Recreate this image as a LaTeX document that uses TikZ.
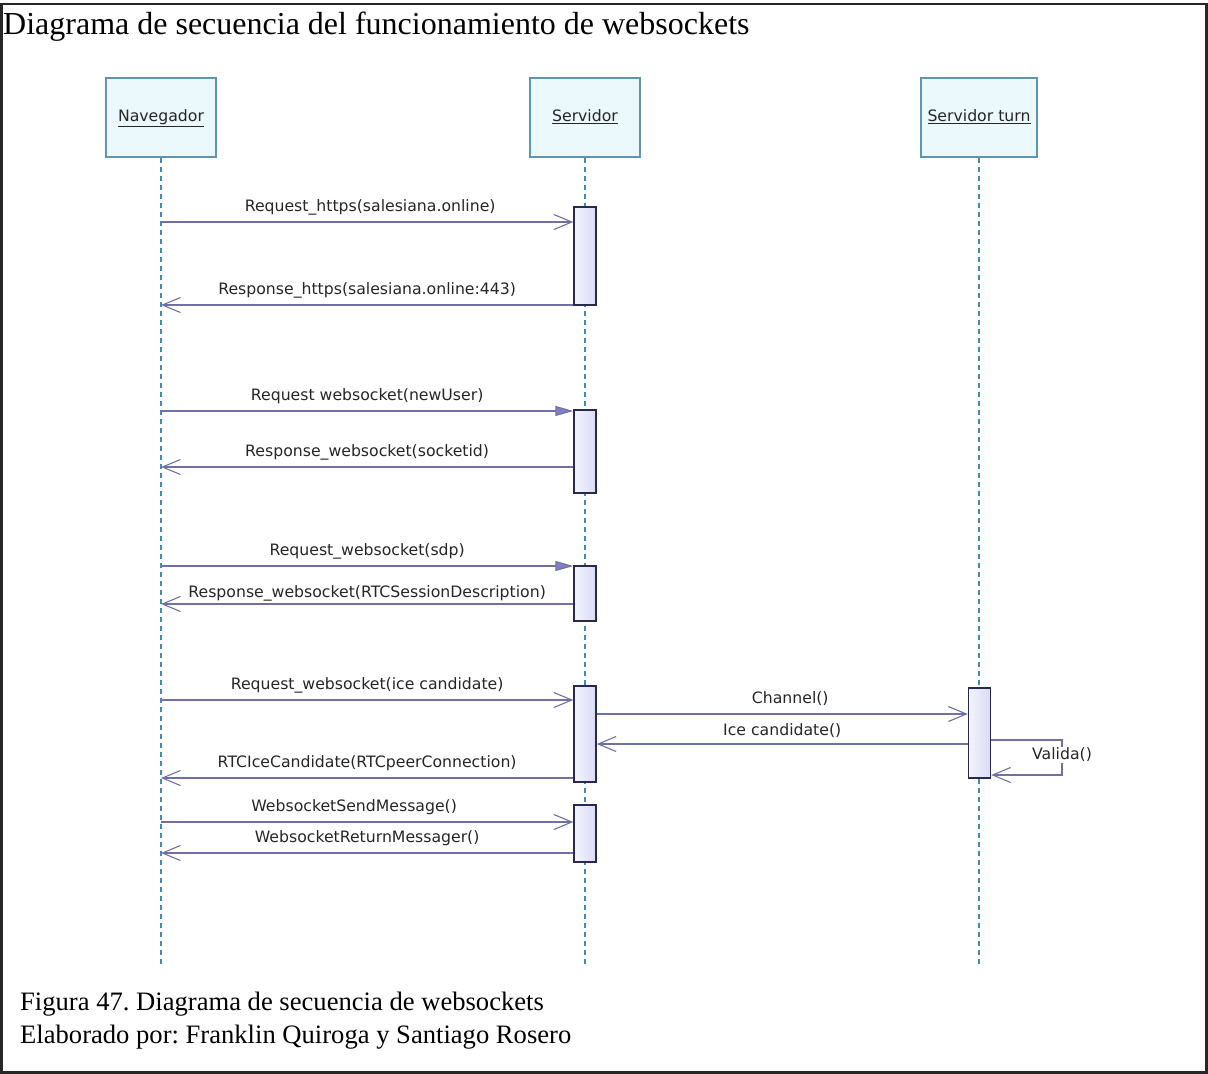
\documentclass[tikz,border=0pt]{standalone}
\usepackage{fontspec}
\setmainfont{Liberation Serif}
\newfontfamily\umlfont{DejaVu Sans}
\usetikzlibrary{arrows.meta}
\frenchspacing

\definecolor{msgcol}{RGB}{112,112,162}
\definecolor{callfill}{RGB}{128,128,192}
\definecolor{boxline}{RGB}{96,148,176}
\definecolor{boxfill}{RGB}{236,249,252}
\definecolor{lifecol}{RGB}{70,138,180}
\definecolor{bardraw}{RGB}{40,40,80}
\definecolor{barlight}{RGB}{244,244,255}
\definecolor{bardark}{RGB}{218,218,246}
\definecolor{lblcol}{RGB}{38,38,38}

\begin{document}
\begin{tikzpicture}[x=1pt,y=-1pt,
  umltext/.style={font=\umlfont\fontsize{15.7}{18}\selectfont},
  lifebox/.style={umltext, draw=boxline, fill=boxfill, line width=1.2pt,
    minimum width=110pt, minimum height=79pt, inner sep=0pt, text=lblcol,
    text height=11.5pt, text depth=3.5pt},
  lifeline/.style={draw=lifecol, line width=1.1pt, dash pattern=on 5pt off 4pt},
  actbar/.style={draw=bardraw, line width=1.4pt, left color=barlight,
    right color=bardark, minimum width=22pt, inner sep=0pt},
  msg/.style={draw=msgcol, line width=1.1pt,
    -{Straight Barb[length=18pt,width=15pt,line width=1.1pt]}},
  call/.style={draw=msgcol, line width=1.1pt,
    -{Triangle[length=18pt,width=10pt,fill=callfill]}},
  lbl/.style={umltext, text=lblcol, inner sep=0pt, yshift=15pt},
  frame/.style={draw=black!85, line width=2.5pt}
]
\useasboundingbox (0,0) rectangle (1208,1074);
\fill[white] (0,0) rectangle (1208,1074);

% outer frame and texts
\draw[frame] (1.5,4) rectangle (1206.5,1072.5);
\node[anchor=base west, inner sep=0pt, font=\fontsize{32}{38}\selectfont] (title)
  at (3,34) {Diagrama de secuencia del funcionamiento de websockets};
\node[anchor=base west, inner sep=0pt, font=\fontsize{26.6}{32}\selectfont] (cap1)
  at (20,1010) {Figura 47. Diagrama de secuencia de websockets};
\node[anchor=base west, inner sep=0pt, font=\fontsize{26.6}{32}\selectfont] (cap2)
  at (20,1043) {Elaborado por: Franklin Quiroga y Santiago Rosero};

% participants
\node[lifebox] (nav) at (161,117.5) {\underline{Navegador}};
\node[lifebox] (srv) at (585,117.5) {\underline{Servidor}};
\node[lifebox, minimum width=116pt] (trn) at (979,117.5) {\underline{Servidor turn}};

\coordinate (navEnd) at (161,965);
\coordinate (srvEnd) at (585,965);
\coordinate (trnEnd) at (979,965);
\draw[lifeline] (nav.south) -- (navEnd);
\draw[lifeline] (srv.south) -- (srvEnd);
\draw[lifeline] (trn.south) -- (trnEnd);

% activation bars
\node[actbar, minimum height=98pt] (a1) at (585,256) {};
\node[actbar, minimum height=83pt] (a2) at (585,451.5) {};
\node[actbar, minimum height=55pt] (a3) at (585,593.5) {};
\node[actbar, minimum height=96pt] (a4) at (585,734) {};
\node[actbar, minimum height=57pt] (a5) at (585,833.5) {};
\node[actbar, minimum height=90pt] (t1) at (979.5,733) {};

% message rows on the browser lifeline
\coordinate (p1) at (161,222);
\coordinate (p2) at (161,305);
\coordinate (p3) at (161,411);
\coordinate (p4) at (161,467);
\coordinate (p5) at (161,566);
\coordinate (p6) at (161,604);
\coordinate (p7) at (161,700);
\coordinate (p11) at (161,778);
\coordinate (p12) at (161,822);
\coordinate (p13) at (161,853);
% rows between the servers
\coordinate (q8) at (585,714);
\coordinate (q9) at (585,744);
\coordinate (v1) at (1062,740);
\coordinate (v2) at (1062,775);

\draw[msg] (p1) -- (p1 -| a1.west)
  node[lbl, midway, xshift=3pt] {Request\_https(salesiana.online)};
\draw[msg] (p2 -| a1.west) -- (p2)
  node[lbl, midway] {Response\_https(salesiana.online:443)};
\draw[call] (p3) -- (p3 -| a2.west)
  node[lbl, midway] {Request websocket(newUser)};
\draw[msg] (p4 -| a2.west) -- (p4)
  node[lbl, midway] {Response\_websocket(socketid)};
\draw[call] (p5) -- (p5 -| a3.west)
  node[lbl, midway] {Request\_websocket(sdp)};
\draw[msg] (p6 -| a3.west) -- (p6)
  node[lbl, midway, yshift=-4pt] {Response\_websocket(RTCSessionDescription)};
\draw[msg] (p7) -- (p7 -| a4.west)
  node[lbl, midway] {Request\_websocket(ice candidate)};
\draw[msg] (q8 -| a4.east) -- (q8 -| t1.west)
  node[lbl, midway, xshift=8pt] {Channel()};
\draw[msg] (q9 -| t1.west) -- (q9 -| a4.east)
  node[lbl, midway, yshift=-2pt] {Ice candidate()};
\draw[msg] (v1 -| t1.east) -- (v1) -- (v2) -- (v2 -| t1.east);
\node[umltext, text=lblcol, fill=white, inner sep=1pt] (valida) at (1062,755) {Valida()};
\draw[msg] (p11 -| a4.west) -- (p11)
  node[lbl, midway] {RTCIceCandidate(RTCpeerConnection)};
\draw[msg] (p12) -- (p12 -| a5.west)
  node[lbl, midway, xshift=-13pt] {WebsocketSendMessage()};
\draw[msg] (p13 -| a5.west) -- (p13)
  node[lbl, midway] {WebsocketReturnMessager()};
\end{tikzpicture}
\end{document}
